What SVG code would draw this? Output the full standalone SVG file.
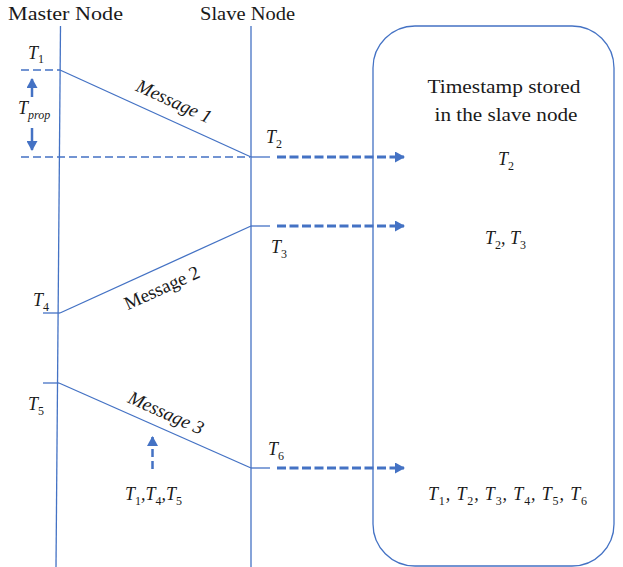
<svg xmlns="http://www.w3.org/2000/svg" width="623" height="567" viewBox="0 0 623 567">
<style>
.ln{stroke:#4472C4;stroke-width:1.3;fill:none}
.gd{stroke:#4472C4;stroke-width:1.3;fill:none;stroke-dasharray:8 4}
.td{stroke:#4472C4;stroke-width:3;fill:none;stroke-dasharray:9 3.5}
.t{font-family:"Liberation Serif",serif;font-size:18px;fill:#1a1a1a}
.i{font-family:"Liberation Serif",serif;font-style:italic;font-size:18px;fill:#1a1a1a}
.s{font-size:12px;font-style:normal}
.si{font-size:12px;font-style:italic}
.m{font-size:19px}
</style>
<defs>
<marker id="ah" markerWidth="10" markerHeight="11" refX="9" refY="5.5" orient="auto" markerUnits="userSpaceOnUse">
<path d="M0,0 L10,5.5 L0,11 Z" fill="#4472C4"/>
</marker>
</defs>
<rect width="623" height="567" fill="#fff"/>
<g id="master">
<text class="t" x="8" y="20" textLength="115" lengthAdjust="spacingAndGlyphs">Master Node</text>
<line class="ln" x1="60.5" y1="26" x2="56" y2="567"/>
</g>
<g id="slave">
<text class="t" x="200" y="20" textLength="95" lengthAdjust="spacingAndGlyphs">Slave Node</text>
<line class="ln" x1="251" y1="26" x2="251" y2="567"/>
</g>
<g id="store">
<rect x="373" y="26" width="241" height="540" rx="42" ry="42" fill="none" stroke="#4472C4" stroke-width="1.3"/>
<text class="t" x="504" y="93" text-anchor="middle" textLength="153" lengthAdjust="spacingAndGlyphs">Timestamp stored</text>
<text class="t" x="506" y="121" text-anchor="middle" textLength="143" lengthAdjust="spacingAndGlyphs">in the slave node</text>
<text class="i" x="498" y="165">T<tspan class="s" dy="5">2</tspan></text>
<text class="i" x="485" y="244">T<tspan class="s" dy="5">2</tspan><tspan dy="-5">, T</tspan><tspan class="s" dy="5">3</tspan></text>
<text class="i" x="428" y="500" textLength="159" lengthAdjust="spacing">T<tspan class="s" dy="5">1</tspan><tspan dy="-5">, T</tspan><tspan class="s" dy="5">2</tspan><tspan dy="-5">, T</tspan><tspan class="s" dy="5">3</tspan><tspan dy="-5">, T</tspan><tspan class="s" dy="5">4</tspan><tspan dy="-5">, T</tspan><tspan class="s" dy="5">5</tspan><tspan dy="-5">, T</tspan><tspan class="s" dy="5">6</tspan></text>
</g>
<g id="connectors">
<line class="gd" x1="21" y1="70" x2="60" y2="70"/>
<line class="gd" x1="21" y1="157" x2="250" y2="157"/>
<line class="ln" x1="60" y1="70" x2="251" y2="157"/>
<line class="ln" x1="43" y1="313" x2="60" y2="313"/>
<line class="ln" x1="60" y1="313" x2="251" y2="226"/>
<line class="ln" x1="43" y1="383" x2="59" y2="383"/>
<line class="ln" x1="59" y1="383" x2="251" y2="468"/>
<line class="ln" x1="251" y1="157" x2="270" y2="157"/>
<line class="ln" x1="251" y1="226" x2="270" y2="226"/>
<line class="ln" x1="251" y1="468" x2="270" y2="468"/>
<line class="td" x1="277" y1="157" x2="404" y2="157" marker-end="url(#ah)"/>
<line class="td" x1="277" y1="226" x2="404" y2="226" marker-end="url(#ah)"/>
<line class="td" x1="277" y1="468" x2="404" y2="468" marker-end="url(#ah)"/>
<line stroke="#4472C4" stroke-width="2.5" x1="32" y1="97" x2="32" y2="79" marker-end="url(#ah)"/>
<line stroke="#4472C4" stroke-width="2.5" x1="32" y1="128" x2="32" y2="150" marker-end="url(#ah)"/>
<line stroke="#4472C4" stroke-width="2.5" stroke-dasharray="8 4" x1="152.5" y1="469" x2="152.5" y2="437" marker-end="url(#ah)"/>
</g>
<g id="labels">
<text class="i" x="28" y="59">T<tspan class="s" dy="4">1</tspan></text>
<text class="i" x="18" y="114">T<tspan class="si" dy="5">prop</tspan></text>
<text class="i" x="266" y="143">T<tspan class="s" dy="5">2</tspan></text>
<text class="i" x="271" y="253">T<tspan class="s" dy="5">3</tspan></text>
<text class="i" x="33" y="306">T<tspan class="s" dy="5">4</tspan></text>
<text class="i" x="28" y="410">T<tspan class="s" dy="5">5</tspan></text>
<text class="i" x="268" y="455">T<tspan class="s" dy="5">6</tspan></text>
<text class="i" x="125" y="500">T<tspan class="s" dy="5">1</tspan><tspan dy="-5">,T</tspan><tspan class="s" dy="5">4</tspan><tspan dy="-5">,T</tspan><tspan class="s" dy="5">5</tspan></text>
<text class="i m" transform="translate(171.5,107) rotate(24.6)" text-anchor="middle">Message 1</text>
<text class="t m" transform="translate(164.5,293.5) rotate(-24.6)" text-anchor="middle">Message 2</text>
<text class="i m" transform="translate(163.5,418.5) rotate(24.1)" text-anchor="middle">Message 3</text>
</g>
</svg>
